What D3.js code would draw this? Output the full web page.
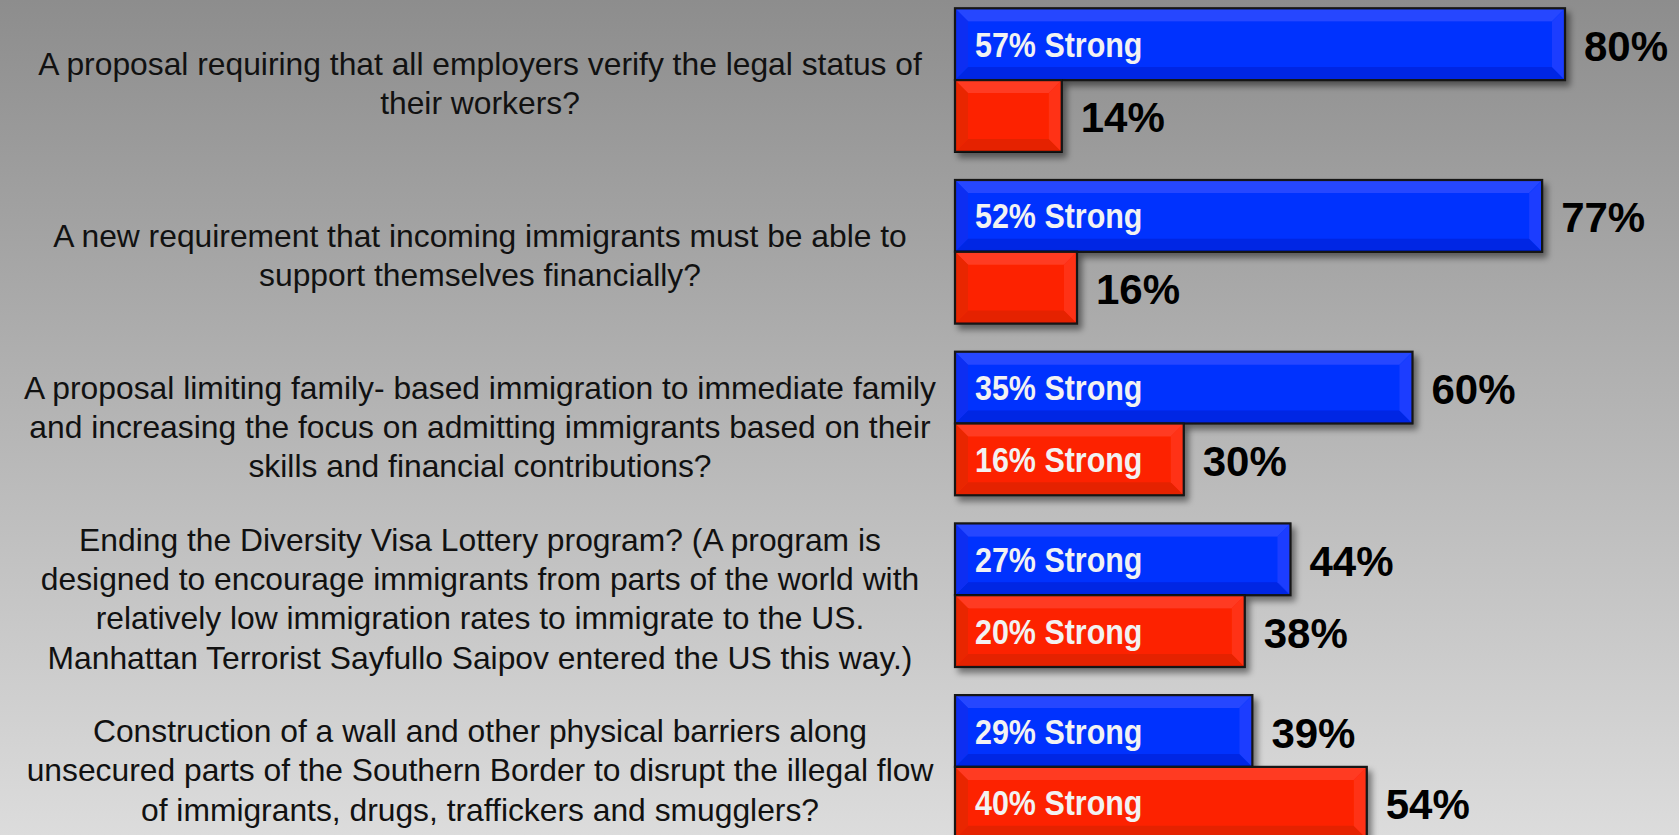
<!DOCTYPE html>
<html>
<head>
<meta charset="utf-8">
<script src="https://cdn.jsdelivr.net/npm/d3@7/dist/d3.min.js"></script>
<style>
  html, body { margin: 0; padding: 0; overflow: hidden; background: #b4b4b4; }
  svg { display: block; }
</style>
</head>
<body>
<svg id="chart" width="1679" height="835"></svg>
<script>
// Survey questions (one entry per wrapped line)
const questions = [
  ["A proposal requiring that all employers verify the legal status of",
   "their workers?"],
  ["A new requirement that incoming immigrants must be able to",
   "support themselves financially?"],
  ["A proposal limiting family- based immigration to immediate family",
   "and increasing the focus on admitting immigrants based on their",
   "skills and financial contributions?"],
  ["Ending the Diversity Visa Lottery program? (A program is",
   "designed to encourage immigrants from parts of the world with",
   "relatively low immigration rates to immigrate to the US.",
   "Manhattan Terrorist Sayfullo Saipov entered the US this way.)"],
  ["Construction of a wall and other physical barriers along",
   "unsecured parts of the Southern Border to disrupt the illegal flow",
   "of immigrants, drugs, traffickers and smugglers?"]
];

// Percent support / oppose, with the "strong" share of each
const support       = [80, 77, 60, 44, 39];
const supportStrong = [57, 52, 35, 27, 29];
const oppose        = [14, 16, 30, 38, 54];
const opposeStrong  = [null, null, 16, 20, 40];

const seriesKeys = ["support", "oppose"];

const palettes = {
  support: { base: "#0233fe", top: "#2846ff", bottom: "#0226e4", left: "#0a2ef2", right: "#1a3dff" },
  oppose:  { base: "#fd2400", top: "#ff3a22", bottom: "#e52200", left: "#e92700", right: "#ff3116" }
};

const W = 1679, H = 835;
const svg = d3.select("#chart");
const defs = svg.append("defs");

// Background: vertical grey gradient
const bg = defs.append("linearGradient").attr("id", "bg")
  .attr("x1", 0).attr("y1", 0).attr("x2", 0).attr("y2", 1);
bg.append("stop").attr("offset", "0%").attr("stop-color", "#8d8d8d");
bg.append("stop").attr("offset", "100%").attr("stop-color", "#dcdcdc");
svg.append("rect").attr("width", W).attr("height", H).attr("fill", "url(#bg)");

// Soft drop shadow for the bars
const shadow = defs.append("filter").attr("id", "shadow")
  .attr("x", "-10%").attr("y", "-20%").attr("width", "130%").attr("height", "160%");
shadow.append("feDropShadow")
  .attr("dx", 4).attr("dy", 5).attr("stdDeviation", 3)
  .attr("flood-color", "#000").attr("flood-opacity", 0.45);

// Scales
const x = d3.scaleLinear().domain([0, 100]).range([955, 1717.5]);
const y = d3.scaleBand().domain(d3.range(questions.length))
  .range([8.3, 838.7]).paddingInner(0.1637).paddingOuter(0);
const ySub = d3.scaleBand().domain(seriesKeys).range([0, y.bandwidth()]);

const rows = questions.map((q, i) => ({
  i, lines: q,
  support: { key: "support", value: support[i], strong: supportStrong[i] },
  oppose:  { key: "oppose",  value: oppose[i],  strong: opposeStrong[i] }
}));

// Question text, centred on each group
const textCx = 480, lineH = 39.2, qFont = 31.8;
const qText = svg.append("g")
  .attr("font-family", "'Liberation Sans', Arial, Helvetica, sans-serif")
  .attr("font-size", qFont).attr("fill", "#111").attr("text-anchor", "middle");
rows.forEach(r => {
  const cy = y(r.i) + y.bandwidth() / 2;
  const n = r.lines.length;
  qText.selectAll(null).data(r.lines).join("text")
    .attr("x", textCx)
    .attr("y", (d, k) => cy + 14.5 + (k - (n - 1) / 2) * lineH)
    .text(d => d);
});

// Bevelled bar
function bevelBar(g, x0, y0, w, h, pal) {
  const b = Math.min(13, w / 2, h / 2);
  const x1 = x0 + w, y1 = y0 + h;
  const poly = pts => pts.map(p => p.join(",")).join(" ");
  g.append("rect").attr("x", x0).attr("y", y0).attr("width", w).attr("height", h).attr("fill", pal.base);
  g.append("polygon").attr("fill", pal.top)
    .attr("points", poly([[x0, y0], [x1, y0], [x1 - b, y0 + b], [x0 + b, y0 + b]]));
  g.append("polygon").attr("fill", pal.bottom)
    .attr("points", poly([[x0, y1], [x1, y1], [x1 - b, y1 - b], [x0 + b, y1 - b]]));
  g.append("polygon").attr("fill", pal.left)
    .attr("points", poly([[x0, y0], [x0 + b, y0 + b], [x0 + b, y1 - b], [x0, y1]]));
  g.append("polygon").attr("fill", pal.right)
    .attr("points", poly([[x1, y0], [x1 - b, y0 + b], [x1 - b, y1 - b], [x1, y1]]));
  g.append("rect").attr("x", x0).attr("y", y0).attr("width", w).attr("height", h)
    .attr("fill", "none").attr("stroke", "#121212").attr("stroke-width", 2.2);
}

const bars = svg.append("g");
rows.forEach(r => {
  seriesKeys.forEach(k => {
    const d = r[k];
    const x0 = x(0), w = x(d.value) - x(0);
    const y0 = y(r.i) + ySub(k), h = ySub.bandwidth();
    const g = bars.append("g").attr("filter", "url(#shadow)");
    bevelBar(g, x0, y0, w, h, palettes[k]);
  });
});

// Labels: "NN% Strong" inside the bar, total percentage after it
const labels = svg.append("g").attr("font-family", "'Liberation Sans', Arial, Helvetica, sans-serif")
  .attr("font-weight", "bold");
rows.forEach(r => {
  seriesKeys.forEach(k => {
    const d = r[k];
    const cy = y(r.i) + ySub(k) + ySub.bandwidth() / 2;
    if (d.strong != null) {
      labels.append("text")
        .attr("transform", `translate(${x(0) + 20},${cy + 12.5}) scale(0.87,1)`)
        .attr("font-size", 35).attr("fill", "#f2f2f2")
        .text(`${d.strong}% Strong`);
    }
    labels.append("text")
      .attr("x", x(d.value) + 19).attr("y", cy + 16.5)
      .attr("font-size", 42).attr("fill", "#000")
      .text(`${d.value}%`);
  });
});
</script>
</body>
</html>
